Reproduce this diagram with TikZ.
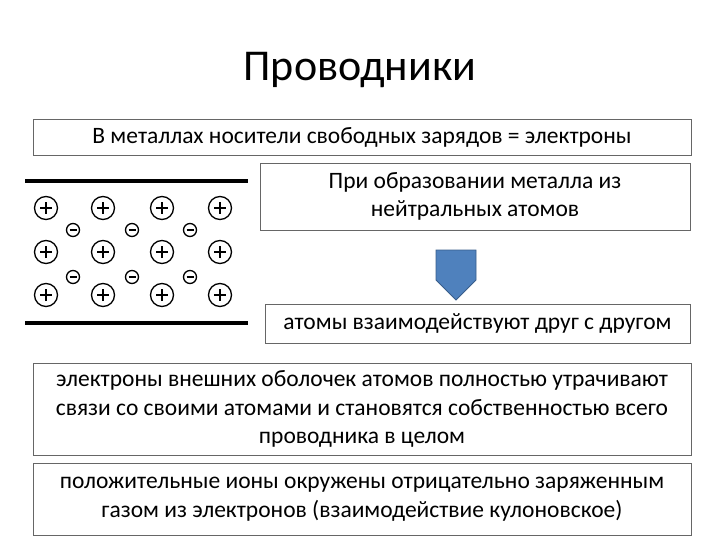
\documentclass[tikz,border=0pt]{standalone}
\usepackage{fontspec}
\setmainfont{Carlito}
\usetikzlibrary{shapes.arrows}
\begin{document}
\begin{tikzpicture}[x=1pt,y=-1pt,
  box/.style={draw=black!60,line width=0.8pt,fill=white,align=center,font=\fontsize{23.5}{28.5}\selectfont,inner sep=0pt},
  ion/.style={circle,draw,line width=1.3pt,minimum size=23pt,inner sep=0pt},
  el/.style={circle,draw,line width=1.3pt,minimum size=13pt,inner sep=0pt},
  plate/.style={line width=4pt}]
\useasboundingbox (0,0) rectangle (720,540);
\node (title) at (360,70) {\fontsize{44}{50}\selectfont Проводники};
\node[box,minimum width=658pt,minimum height=36pt] (b1) at (362,137) {В металлах носители свободных зарядов = электроны};
\node[box,minimum width=430pt,minimum height=67pt] (b2) at (475,196.5) {При образовании металла из\\нейтральных атомов};
\node[single arrow,shape border rotate=270,fill=blue!45!cyan!55!black!75,draw=blue!40!black,line width=0.8pt,minimum height=50pt,minimum width=40pt,single arrow head extend=0pt,single arrow tip angle=90, inner sep=0pt,fill={rgb,255:red,79;green,129;blue,189},draw={rgb,255:red,56;green,93;blue,138}] (arr) at (456,265) {};
\node[box,minimum width=425pt,minimum height=39pt] (b3) at (477.5,323.5) {атомы взаимодействуют друг с другом};
\node[box,minimum width=658pt,minimum height=92pt] (b4) at (362,409) {электроны внешних оболочек атомов полностью утрачивают\\связи со своими атомами и становятся собственностью всего\\проводника в целом};
\node[box,minimum width=658pt,minimum height=72pt] (b5) at (362,499) {положительные ионы окружены отрицательно заряженным\\газом из электронов (взаимодействие кулоновское)};
\coordinate (t1) at (25,181); \coordinate (t2) at (248,181);
\coordinate (u1) at (25,323); \coordinate (u2) at (248,323);
\draw[plate] (t1) -- (t2);
\draw[plate] (u1) -- (u2);
\foreach \x [count=\i] in {46,103,162,220}{
 \foreach \y [count=\j] in {208,252,295}{
  \node[ion] (p\i\j) at (\x,\y) {};
  \draw[line width=1.3pt] ([xshift=-6pt]p\i\j.center) -- ([xshift=6pt]p\i\j.center)
     ([yshift=-6pt]p\i\j.center) -- ([yshift=6pt]p\i\j.center);
 }}
\foreach \x [count=\i] in {73,132,190}{
 \foreach \y [count=\j] in {230,277}{
  \node[el] (m\i\j) at (\x,\y) {};
  \draw[line width=1.3pt] ([xshift=-3.5pt]m\i\j.center) -- ([xshift=3.5pt]m\i\j.center);
 }}
\end{tikzpicture}
\end{document}
